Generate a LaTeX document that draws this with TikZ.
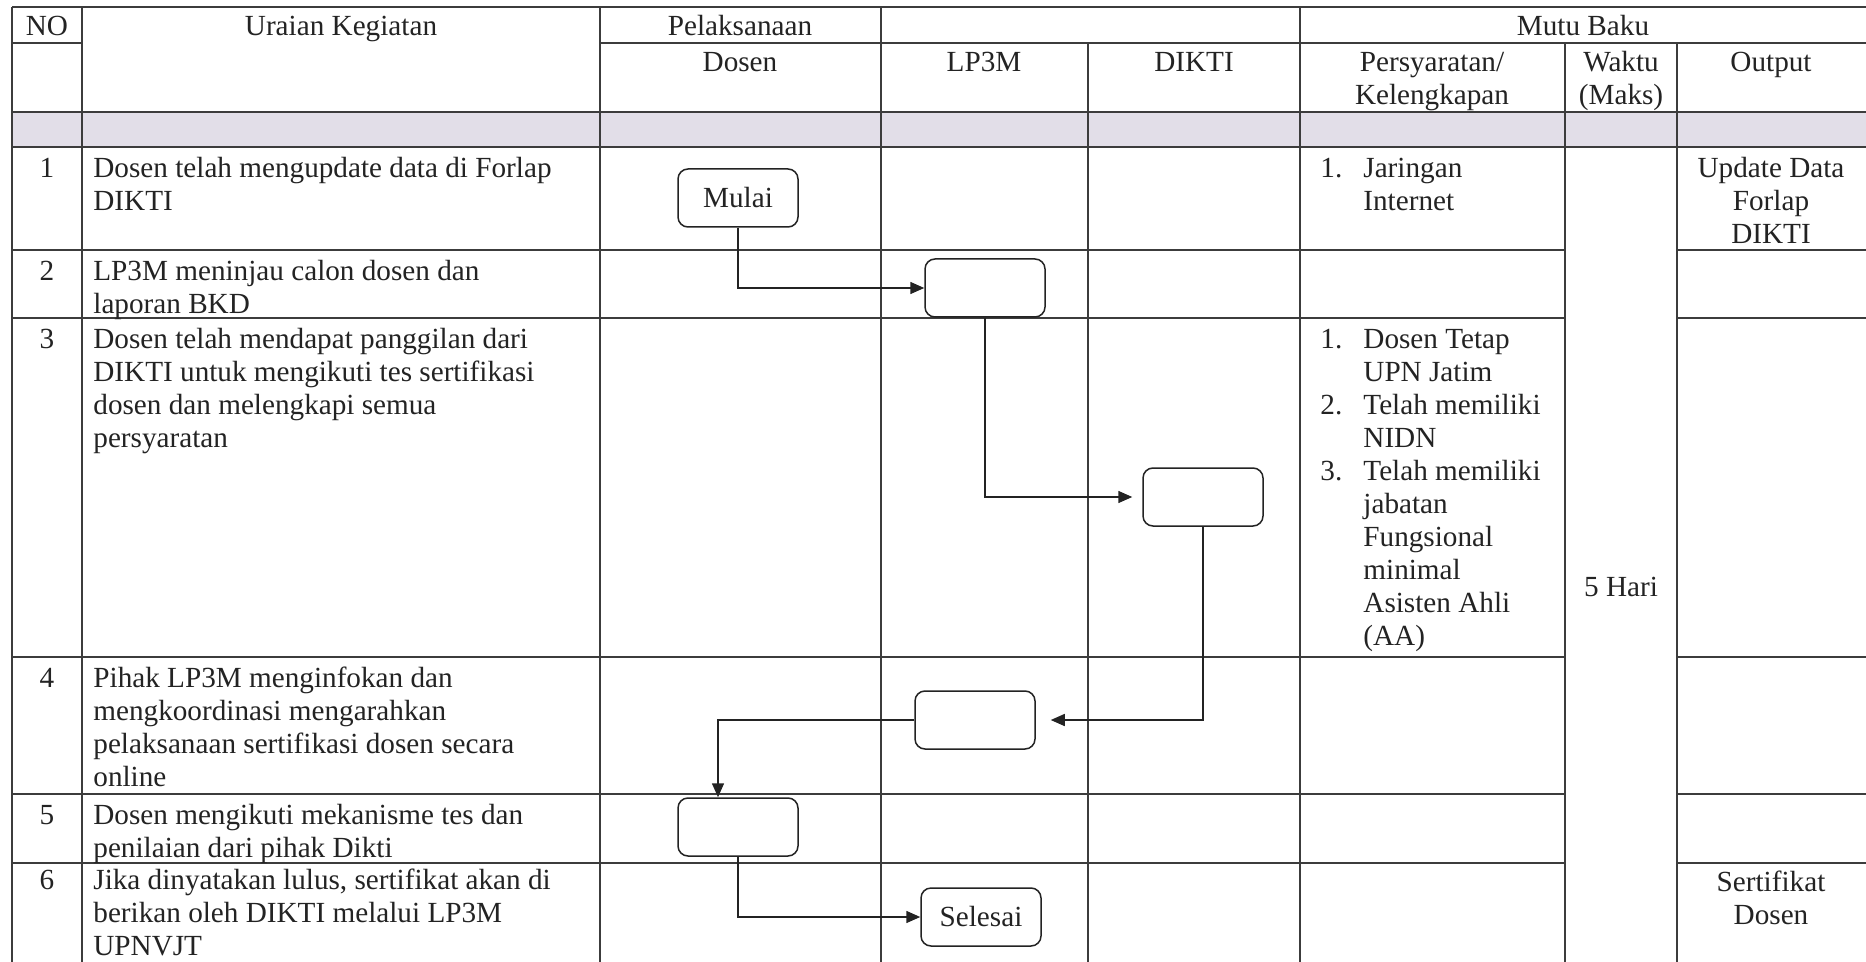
\documentclass[tikz,border=0pt]{standalone}
\usepackage{fontspec}
\setmainfont{Liberation Serif}
\usetikzlibrary{arrows.meta}
\definecolor{band}{RGB}{226,222,232}
\definecolor{ink}{RGB}{35,35,35}
\definecolor{rule}{RGB}{60,60,60}
\newcommand{\cf}{\fontsize{14.6}{16.5}\selectfont}
\begin{document}
\begin{tikzpicture}[x=0.5pt,y=-0.5pt,
 grid/.style={draw=rule,line width=1pt},
 txt/.style={inner sep=0pt,font=\cf,text=ink},
 lt/.style={txt,anchor=north west,align=left},
 ct/.style={txt,anchor=north,align=center},
 flow/.style={draw=ink,fill=white,line width=0.75pt,rounded corners=5pt,minimum width=60pt,minimum height=29pt,inner sep=0pt,font=\cf,text=ink},
 conn/.style={draw=ink,line width=0.75pt,-{Triangle[length=7pt,width=6pt]}}]
\useasboundingbox (0,0) rectangle (1866,962);
\fill[white] (0,0) rectangle (1866,962);
\fill[band] (12,112) rectangle (1866,147);
% horizontal rules
\draw[grid] (12,7) -- (1866,7);
\draw[grid] (12,43) -- (82,43);
\draw[grid] (600,43) -- (1866,43);
\draw[grid] (12,112) -- (1866,112);
\draw[grid] (12,147) -- (1866,147);
\foreach \yy in {250,318,657,794,863}{
  \draw[grid] (12,\yy) -- (1565,\yy);
  \draw[grid] (1677,\yy) -- (1866,\yy);
}
% vertical rules
\foreach \xx in {12,82,600,881,1300}{\draw[grid] (\xx,7) -- (\xx,962);}
\foreach \xx in {1088,1565,1677}{\draw[grid] (\xx,43) -- (\xx,962);}

% header
\node[ct] (hNO) at (47,12) {\strut NO};
\node[ct] (hUr) at (341,12) {\strut Uraian Kegiatan};
\node[ct] (hPel) at (740,12) {\strut Pelaksanaan};
\node[ct] (hMB) at (1583,12) {\strut Mutu Baku};
\node[ct] (hDos) at (740,48) {\strut Dosen};
\node[ct] (hLP) at (984,48) {\strut LP3M};
\node[ct] (hDK) at (1194,48) {\strut DIKTI};
\node[ct] (hPer) at (1432,48) {\strut Persyaratan/\\\strut Kelengkapan};
\node[ct] (hWak) at (1621,48) {\strut Waktu\\\strut (Maks)};
\node[ct] (hOut) at (1771,48) {\strut Output};

% numbers
\node[ct] (n1) at (47,154) {\strut 1};
\node[ct] (n2) at (47,257) {\strut 2};
\node[ct] (n3) at (47,325) {\strut 3};
\node[ct] (n4) at (47,664) {\strut 4};
\node[ct] (n5) at (47,801) {\strut 5};
\node[ct] (n6) at (47,866) {\strut 6};

% activities
\node[lt] (t1) at (93,154) {\strut Dosen telah mengupdate data di Forlap\\\strut DIKTI};
\node[lt] (t2) at (93,257) {\strut LP3M meninjau calon dosen dan\\\strut laporan BKD};
\node[lt] (t3) at (93,325) {\strut Dosen telah mendapat panggilan dari\\\strut DIKTI untuk mengikuti tes sertifikasi\\\strut dosen dan melengkapi semua\\\strut persyaratan};
\node[lt] (t4) at (93,664) {\strut Pihak LP3M menginfokan dan\\\strut mengkoordinasi mengarahkan\\\strut pelaksanaan sertifikasi dosen secara\\\strut online};
\node[lt] (t5) at (93,801) {\strut Dosen mengikuti mekanisme tes dan\\\strut penilaian dari pihak Dikti};
\node[lt] (t6) at (93,866) {\strut Jika dinyatakan lulus, sertifikat akan di\\\strut berikan oleh DIKTI melalui LP3M\\\strut UPNVJT};

% requirements
\node[lt] (r1n) at (1320,154) {\strut 1.};
\node[lt] (r1) at (1363,154) {\strut Jaringan\\\strut Internet};
\node[lt] (r3a) at (1320,325) {\strut 1.};
\node[lt] (r3b) at (1320,391) {\strut 2.};
\node[lt] (r3c) at (1320,457) {\strut 3.};
\node[lt] (r3) at (1363,325) {\strut Dosen Tetap\\\strut UPN Jatim\\\strut Telah memiliki\\\strut NIDN\\\strut Telah memiliki\\\strut jabatan\\\strut Fungsional\\\strut minimal\\\strut Asisten Ahli\\\strut (AA)};

% time and output
\node[txt] (wk) at (1621,587) {5 Hari};
\node[ct] (o1) at (1771,154) {\strut Update Data\\\strut Forlap\\\strut DIKTI};
\node[ct] (o6) at (1771,868) {\strut Sertifikat\\\strut Dosen};

% flow boxes
\node[flow] (start) at (738,198) {Mulai};
\node[flow] (b2) at (985,288) {};
\node[flow] (b3) at (1203,497) {};
\node[flow] (b4) at (975,720) {};
\node[flow] (b5) at (738,827) {};
\node[flow] (stop) at (981,917) {Selesai};
\coordinate (k4) at (718,720);

% connectors
\draw[conn] (start.south) |- (b2.west);
\draw[conn,shorten >=5pt] (b2.south) |- (b3.west);
\draw[conn,shorten >=7.5pt] (b3.south) |- (b4.east);
\draw[conn] (b4.west) -- (k4) -- (k4 |- b5.north);
\draw[conn] (b5.south) |- (stop.west);
\end{tikzpicture}
\end{document}
